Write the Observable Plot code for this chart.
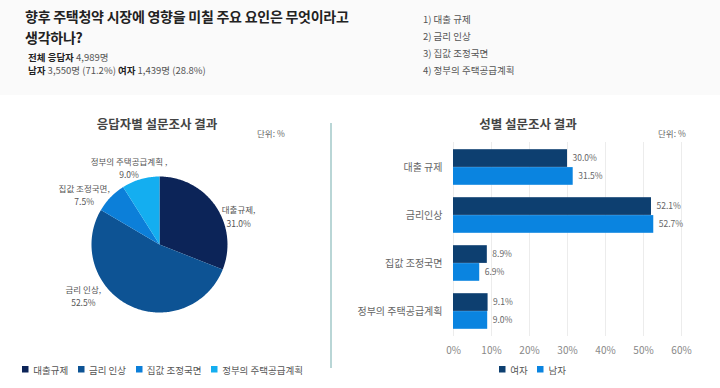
<!DOCTYPE html>
<html><head><meta charset="utf-8">
<script src="https://cdn.jsdelivr.net/npm/d3@7"></script>
<script src="https://cdn.jsdelivr.net/npm/@observablehq/plot@0.6"></script>
<style>
  body{margin:0;width:720px;height:388px;position:relative;overflow:hidden;background:#fff;font-family:"Noto Sans CJK KR","Noto Sans",sans-serif;}
  .abs{position:absolute;}
  #header{left:0;top:0;width:720px;height:95px;background:#fafafa;}
  #title{left:25px;top:6px;font-size:14px;font-weight:700;color:#222;line-height:20.5px;letter-spacing:-0.25px;}
  .sub{left:28px;font-size:9.5px;color:#555;line-height:13px;}
  .sub b{color:#222;}
  .opt{left:423px;font-size:9.5px;color:#555;line-height:13px;}
  .ctitle{font-size:12.5px;font-weight:700;color:#444;transform:translateX(-50%);white-space:nowrap;}
  .unit{font-size:8.5px;color:#666;}
  #divider{left:330px;top:123px;width:1.5px;height:245px;background:#b9d6d6;}
</style>
</head><body>
<div id="header" class="abs"></div>
<div id="title" class="abs">향후 주택청약 시장에 영향을 미칠 주요 요인은 무엇이라고<br>생각하나?</div>
<div class="abs sub" style="top:51px"><b>전체 응답자</b> 4,989명</div>
<div class="abs sub" style="top:64px"><b>남자</b> 3,550명 (71.2%) <b>여자</b> 1,439명 (28.8%)</div>
<div class="abs opt" style="top:13px">1) 대출 규제</div>
<div class="abs opt" style="top:30px">2) 금리 인상</div>
<div class="abs opt" style="top:47px">3) 집값 조정국면</div>
<div class="abs opt" style="top:64px">4) 정부의 주택공급계획</div>

<div class="abs ctitle" style="left:157px;top:114px">응답자별 설문조사 결과</div>
<div class="abs unit" style="left:257px;top:127px">단위: %</div>
<div class="abs ctitle" style="left:528px;top:114px">성별 설문조사 결과</div>
<div class="abs unit" style="left:658px;top:127px">단위: %</div>
<div id="divider" class="abs"></div>

<div id="pie" class="abs" style="left:0;top:100px"></div>
<div id="pieLegend" class="abs" style="left:22px;top:353px"></div>
<div id="bar" class="abs" style="left:340px;top:100px"></div>
<div id="barLegend" class="abs" style="left:499px;top:353px"></div>

<script>
// ---- data ----
const pieCategories = ["대출규제", "금리 인상", "집값 조정국면", "정부의 주택공급계획"];
const pieValues = [31.0, 52.5, 7.5, 9.0];
const pieLabelNames = ["대출규제,", "금리 인상,", "집값 조정국면,", "정부의 주택공급계획 ,"];
const pieColors = ["#0c2458", "#0d5394", "#0c7fd9", "#14aef0"];

const barCategories = ["대출 규제", "금리인상", "집값 조정국면", "정부의 주택공급계획"];
const femaleValues = [30.0, 52.1, 8.9, 9.1];
const maleValues = [31.5, 52.7, 6.9, 9.0];
const genders = ["여자", "남자"];
const genderColors = ["#0d3f70", "#0a84e0"];
const xTicks = [0, 10, 20, 30, 40, 50, 60];

// label nudges (in radius units) for pie labels
const labelNudge = [[0.13, -0.28], [-0.57, 0.38], [-0.21, -0.13], [-0.10, -0.07]];

// ---- pie ----
const arcs = d3.pie().sort(null)(pieValues);
const slices = arcs.map((a, i) => {
  const ring = [[0, 0]];
  const n = Math.max(2, Math.ceil((a.endAngle - a.startAngle) / (Math.PI / 180)));
  for (let k = 0; k <= n; k++) {
    const t = a.startAngle + (a.endAngle - a.startAngle) * k / n;
    ring.push([Math.sin(t), Math.cos(t)]);
  }
  ring.push([0, 0]);
  return {type: "Feature", properties: {name: pieCategories[i]}, geometry: {type: "Polygon", coordinates: [ring]}};
});
const pieLabels = arcs.map((a, i) => {
  const m = (a.startAngle + a.endAngle) / 2;
  return {
    x: Math.sin(m) * 1.25 + labelNudge[i][0],
    y: Math.cos(m) * 1.25 + labelNudge[i][1],
    text: pieLabelNames[i] + "\n" + pieValues[i].toFixed(1) + "%"
  };
});

const pie = Plot.plot({
  width: 330, height: 280,
  margin: 0,
  projection: {type: "reflect-y", domain: {type: "MultiPoint", coordinates: [[-2.338, -2.0], [2.515, 2.118]]}},
  color: {domain: pieCategories, range: pieColors},
  style: {fontFamily: "'Noto Sans CJK KR', sans-serif", background: "transparent", overflow: "visible"},
  marks: [
    Plot.geo(slices, {fill: d => d.properties.name, stroke: "none"}),
    Plot.text(pieLabels, {x: "x", y: "y", text: "text", fontSize: 8.5, fill: "#555", lineHeight: 1.55, textAnchor: "middle"})
  ]
});
document.getElementById("pie").appendChild(pie);

const pl = Plot.legend({
  color: {type: "categorical", domain: pieCategories, range: pieColors},
  swatchSize: 6.5,
  style: {fontFamily: "'Noto Sans CJK KR', sans-serif", fontSize: "9.5px", color: "#555", background: "transparent"}
});
document.getElementById("pieLegend").appendChild(pl);

// ---- bars ----
const barData = [];
barCategories.forEach((c, i) => {
  barData.push({category: c, gender: genders[0], value: femaleValues[i]});
  barData.push({category: c, gender: genders[1], value: maleValues[i]});
});
const fem = barData.filter(d => d.gender === genders[0]);
const mal = barData.filter(d => d.gender === genders[1]);

const bar = Plot.plot({
  width: 380, height: 265,
  marginLeft: 113, marginRight: 39, marginTop: 42, marginBottom: 29,
  x: {domain: [0, 60], ticks: xTicks, tickFormat: d => d + "%", grid: false},
  y: {domain: barCategories, padding: 0, label: null},
  color: {domain: genders, range: genderColors},
  style: {fontFamily: "'Noto Sans CJK KR', sans-serif", background: "transparent", overflow: "visible"},
  marks: [
    Plot.ruleX(xTicks, {stroke: "#ececec", strokeWidth: 1}),
    Plot.barX(fem, {x: "value", y: "category", fill: "gender", insetTop: 6.2, insetBottom: 24.1}),
    Plot.barX(mal, {x: "value", y: "category", fill: "gender", insetTop: 24.1, insetBottom: 6.2}),
    Plot.text(fem, {x: "value", y: "category", text: d => d.value.toFixed(1) + "%", dx: 5, dy: -9, textAnchor: "start", fontSize: 8.5, fill: "#666"}),
    Plot.text(mal, {x: "value", y: "category", text: d => d.value.toFixed(1) + "%", dx: 5, dy: 9, textAnchor: "start", fontSize: 8.5, fill: "#666"}),
    Plot.axisX({ticks: xTicks, tickFormat: d => d + "%", tickSize: 0, tickPadding: 10, fontSize: 10, color: "#888", label: null}),
    Plot.axisY({tickSize: 0, tickPadding: 11, fontSize: 10, color: "#666", label: null})
  ]
});
document.getElementById("bar").appendChild(bar);

const bl = Plot.legend({
  color: {type: "categorical", domain: genders, range: genderColors},
  swatchSize: 6.5,
  style: {fontFamily: "'Noto Sans CJK KR', sans-serif", fontSize: "9.5px", color: "#555", background: "transparent"}
});
document.getElementById("barLegend").appendChild(bl);
</script>
</body></html>
